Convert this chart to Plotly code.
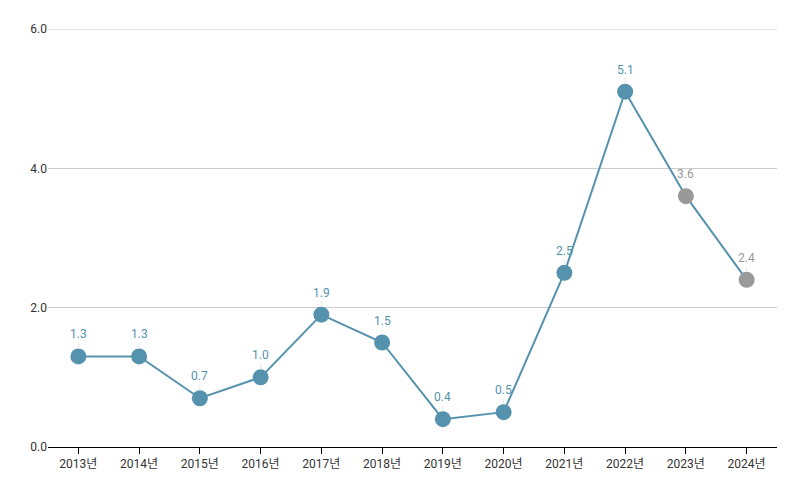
import plotly.graph_objects as go

years = ["2013년", "2014년", "2015년", "2016년", "2017년", "2018년",
         "2019년", "2020년", "2021년", "2022년", "2023년", "2024년"]
values = [1.3, 1.3, 0.7, 1.0, 1.9, 1.5, 0.4, 0.5, 2.5, 5.1, 3.6, 2.4]
is_estimate = [False] * 10 + [True, True]
y_ticks = [0, 2, 4, 6]
y_max = 6

BLUE = "#5592ad"
GREY = "#999999"
colors = [GREY if e else BLUE for e in is_estimate]

fig = go.Figure()
fig.add_trace(go.Scatter(
    x=years, y=values, mode="lines+markers",
    line=dict(color=BLUE, width=2),
    marker=dict(size=16, color=colors),
    hoverinfo="x+y", showlegend=False,
))

for x, v, c in zip(years, values, colors):
    fig.add_annotation(
        x=x, y=v, text=f"{v:.1f}", showarrow=True, ax=0, ay=-22,
        arrowhead=0, arrowwidth=1, arrowcolor="#e6e6e6", standoff=8,
        font=dict(family="Roboto, 'Noto Sans CJK KR', sans-serif", size=12, color=c),
    )

# top gridline (plotly hides the grid line at the range edge)
fig.add_shape(type="line", xref="paper", x0=0, x1=1, yref="y", y0=y_max, y1=y_max,
              line=dict(color="#cccccc", width=1), layer="below")

fig.update_layout(
    width=777, height=473,
    margin=dict(l=40, r=8, t=21, b=34),
    paper_bgcolor="white", plot_bgcolor="white",
    font=dict(family="Roboto, 'Noto Sans CJK KR', sans-serif", size=12, color="#333333"),
)
fig.update_xaxes(
    type="category", range=[-0.5, 11.5],
    showline=True, linecolor="#000000", linewidth=1,
    ticks="outside", ticklen=6, tickcolor="#000000",
    showgrid=False, tickfont=dict(size=12, color="#333333"),
)
fig.update_yaxes(
    range=[0, y_max], tickvals=y_ticks, tickformat=".1f",
    showgrid=True, gridcolor="#cccccc", gridwidth=1,
    zeroline=False, showline=False, ticks="",
    tickfont=dict(size=12, color="#333333"),
)

fig.write_html("out.html")
